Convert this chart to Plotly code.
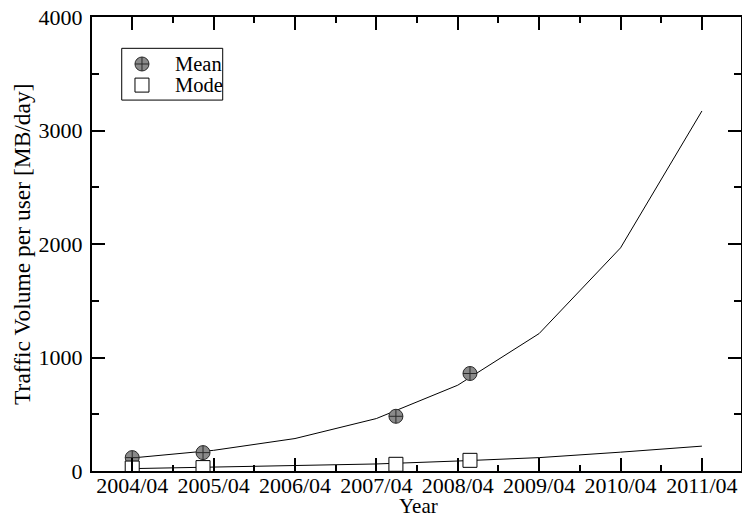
import plotly.graph_objects as go

# Tick labels / categories
year_ticks = [2004.25, 2005.25, 2006.25, 2007.25, 2008.25, 2009.25, 2010.25, 2011.25]
year_labels = ["2004/04", "2005/04", "2006/04", "2007/04", "2008/04", "2009/04", "2010/04", "2011/04"]

# Measured points
meas_x = [2004.25, 2005.12, 2007.49, 2008.40]
mean_vals = [118, 162, 482, 859]
mode_vals = [26, 30, 59, 94]

# Fitted curves (yearly)
mean_fit = [115, 182, 286, 462, 756, 1211, 1966, 3172]
mode_fit = [21, 33, 47, 62, 88, 118, 166, 219]

series_names = ["Mean", "Mode"]

FONT = "Liberation Serif"
mean_marker = dict(symbol="circle-cross", size=14, color="#8a8a8a",
                   line=dict(color="#2a2a2a", width=1))
mode_marker = dict(symbol="square", size=14, color="white",
                   line=dict(color="black", width=1))

fig = go.Figure()
fig.add_trace(go.Scatter(x=year_ticks, y=mean_fit, mode="lines",
                         line=dict(color="black", width=1), showlegend=False))
fig.add_trace(go.Scatter(x=year_ticks, y=mode_fit, mode="lines",
                         line=dict(color="black", width=1), showlegend=False))
fig.add_trace(go.Scatter(x=meas_x, y=mean_vals, mode="markers", name=series_names[0],
                         marker=mean_marker, showlegend=False))
fig.add_trace(go.Scatter(x=meas_x, y=mode_vals, mode="markers", name=series_names[1],
                         marker=mode_marker, showlegend=False))

# Legend drawn on an overlay axis in plot-fraction coordinates
leg_x = [0.077, 0.077]
leg_y = [0.8965, 0.850]
fig.add_trace(go.Scatter(x=[leg_x[0]], y=[leg_y[0]], mode="markers", marker=mean_marker,
                         xaxis="x2", yaxis="y2", showlegend=False, hoverinfo="skip"))
fig.add_trace(go.Scatter(x=[leg_x[1]], y=[leg_y[1]], mode="markers", marker=mode_marker,
                         xaxis="x2", yaxis="y2", showlegend=False, hoverinfo="skip"))
fig.add_shape(type="rect", xref="paper", yref="paper", x0=0.0458, x1=0.2014,
              y0=0.817, y1=0.931, line=dict(color="black", width=1), fillcolor="rgba(0,0,0,0)",
              layer="below")
for name, yy in zip(series_names, leg_y):
    fig.add_annotation(text=name, xref="paper", yref="paper", x=0.1245, y=yy,
                       xanchor="left", yanchor="middle", showarrow=False,
                       font=dict(family=FONT, size=20.5, color="black"))

axis_common = dict(showgrid=False, zeroline=False, showline=True, linecolor="black",
                   linewidth=2, mirror="allticks", ticks="inside", tickcolor="black",
                   tickwidth=2, ticklen=13, automargin=False,
                   tickfont=dict(family=FONT, size=22, color="black"))

fig.update_layout(xaxis=dict(range=[2003.756, 2011.73], tickvals=year_ticks, ticktext=year_labels,
                             ticklabelstandoff=-6,
                             minor=dict(ticks="inside", ticklen=6, tickwidth=2, tickcolor="black",
                                        dtick=0.5, tick0=2003.75),
                             **axis_common),
                  yaxis=dict(range=[0, 4000], dtick=1000, tick0=0, ticklabelstandoff=3,
                             minor=dict(ticks="inside", ticklen=7, tickwidth=2, tickcolor="black",
                                        dtick=500),
                             **axis_common),
                  xaxis2=dict(range=[0, 1], overlaying="x", visible=False, fixedrange=True),
                  yaxis2=dict(range=[0, 1], overlaying="y", visible=False, fixedrange=True))

fig.add_annotation(text="Year", xref="paper", yref="paper", x=0.503, y=-0.077,
                   xanchor="center", yanchor="middle", showarrow=False,
                   font=dict(family=FONT, size=21, color="black"))
fig.add_annotation(text="Traffic Volume per user [MB/day]", xref="paper", yref="paper",
                   x=-0.1079, y=0.5, xanchor="center", yanchor="middle", showarrow=False,
                   textangle=-90, font=dict(family=FONT, size=23.5, color="black"))

fig.update_layout(
    width=742, height=517,
    margin=dict(l=92, r=1, t=17, b=46),
    paper_bgcolor="white", plot_bgcolor="white",
    font=dict(family=FONT, color="black"),
    showlegend=False,
)

fig.write_html("out.html", config={"displayModeBar": False},
               post_script="document.body.style.margin='0';document.body.style.padding='0';document.body.style.overflow='hidden';")
